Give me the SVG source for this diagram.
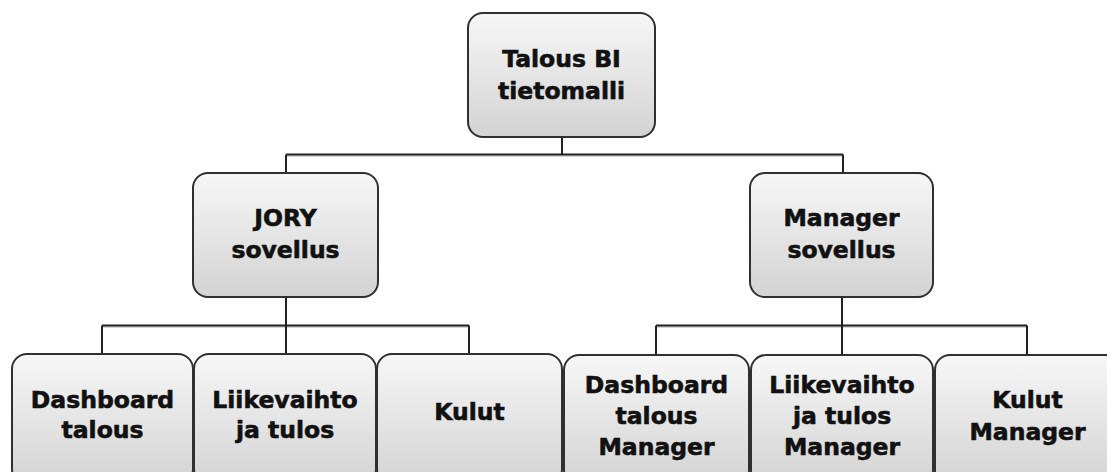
<svg xmlns="http://www.w3.org/2000/svg" width="1107" height="472" viewBox="0 0 1107 472">
<defs>
<linearGradient id="g" x1="0" y1="0" x2="0" y2="1">
<stop offset="0" stop-color="#f7f7f7"/>
<stop offset="1" stop-color="#d3d3d3"/>
</linearGradient>
</defs>
<style>
.box{fill:url(#g);stroke:#303030;stroke-width:2}
.t{font-family:"DejaVu Sans",Verdana,sans-serif;font-weight:bold;font-size:23.5px;fill:#111;stroke:#111;stroke-width:0.6;text-anchor:middle}
.c{fill:none;stroke:#222;stroke-width:2}
.s{fill:none;stroke:#aaa;stroke-width:1}
</style>
<rect width="1107" height="472" fill="#fff"/>
<g id="connectors">
<path class="s" d="M287 156H844M103 327H470M657 327H1028"/>
<path class="c" d="M562 137V154.5M286 154.5H843M286 154.5V173M843 154.5V173"/>
<path class="c" d="M286 297V354M102 325.5H469M102 325.5V354M469 325.5V354"/>
<path class="c" d="M842 297V354M656 325.5H1027M656 325.5V354M1027 325.5V354"/>
</g>
<g id="n-talous">
<rect class="box" x="468" y="13" width="187" height="124" rx="15"/>
<text class="t" x="561.5" y="67">Talous BI</text>
<text class="t" x="561.5" y="99">tietomalli</text>
</g>
<g id="n-jory">
<rect class="box" x="193" y="173" width="185" height="124" rx="15"/>
<text class="t" x="285.5" y="226">JORY</text>
<text class="t" x="285.5" y="258">sovellus</text>
</g>
<g id="n-manager">
<rect class="box" x="750" y="173" width="183" height="124" rx="15"/>
<text class="t" x="841.5" y="226">Manager</text>
<text class="t" x="841.5" y="258">sovellus</text>
</g>
<g id="n-dash1">
<rect class="box" x="12" y="354" width="181" height="130" rx="15"/>
<text class="t" x="102.5" y="408">Dashboard</text>
<text class="t" x="102.5" y="438">talous</text>
</g>
<g id="n-liike1">
<rect class="box" x="194" y="354" width="182" height="130" rx="15"/>
<text class="t" x="285" y="408">Liikevaihto</text>
<text class="t" x="285" y="438">ja tulos</text>
</g>
<g id="n-kulut1">
<rect class="box" x="377" y="354" width="185" height="130" rx="15"/>
<text class="t" x="469.5" y="420">Kulut</text>
</g>
<g id="n-dash2">
<rect class="box" x="564" y="355" width="185" height="130" rx="15"/>
<text class="t" x="656.5" y="393">Dashboard</text>
<text class="t" x="656.5" y="424">talous</text>
<text class="t" x="656.5" y="455">Manager</text>
</g>
<g id="n-liike2">
<rect class="box" x="751" y="355" width="182" height="130" rx="15"/>
<text class="t" x="842" y="393">Liikevaihto</text>
<text class="t" x="842" y="424">ja tulos</text>
<text class="t" x="842" y="455">Manager</text>
</g>
<g id="n-kulut2">
<rect class="box" x="935" y="355" width="185" height="130" rx="15"/>
<text class="t" x="1027.5" y="408">Kulut</text>
<text class="t" x="1027.5" y="440">Manager</text>
</g>
</svg>
